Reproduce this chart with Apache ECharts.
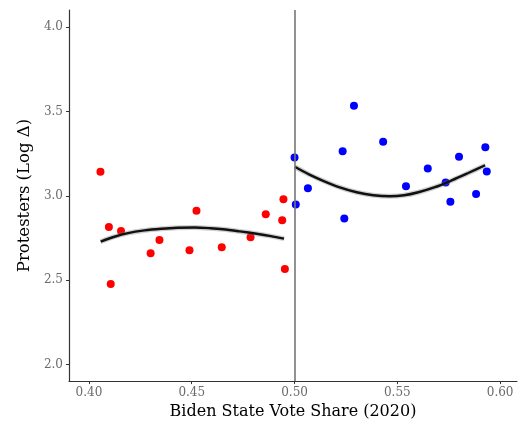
<!DOCTYPE html>
<html>
<head>
<meta charset="utf-8">
<script src="https://cdn.jsdelivr.net/npm/echarts@6/dist/echarts.min.js"></script>
<style>
  html, body { margin: 0; padding: 0; background: #fff; }
  #chart { width: 524px; height: 425px; }
</style>
</head>
<body>
<div id="chart"></div>
<script>
// States below 50% Biden share (red) and at/above it (blue): [vote share, log change in protesters]
const redStates = [
  [0.4056, 3.142], [0.4097, 2.815], [0.4156, 2.791], [0.4106, 2.477],
  [0.4300, 2.660], [0.4343, 2.738], [0.4523, 2.912], [0.4489, 2.677],
  [0.4646, 2.695], [0.4786, 2.754], [0.4860, 2.890], [0.4946, 2.980],
  [0.4940, 2.855], [0.4953, 2.567]
];
const blueStates = [
  [0.5000, 3.227], [0.5006, 2.949], [0.5065, 3.045], [0.5234, 3.264],
  [0.5242, 2.865], [0.5289, 3.534], [0.5431, 3.320], [0.5542, 3.057],
  [0.5648, 3.162], [0.5735, 3.079], [0.5758, 2.965], [0.5800, 3.231],
  [0.5883, 3.010], [0.5928, 3.288], [0.5935, 3.144]
];
// Quadratic fit on each side of the cutoff
const redFit = [
  [0.4057, 2.729], [0.4120, 2.756], [0.4190, 2.779], [0.4270, 2.795],
  [0.4352, 2.805], [0.4430, 2.811], [0.4515, 2.812], [0.4590, 2.808],
  [0.4652, 2.802], [0.4735, 2.789], [0.4815, 2.775], [0.4885, 2.761],
  [0.4949, 2.746]
];
const blueFit = [
  [0.5001, 3.172], [0.5070, 3.127], [0.5139, 3.089], [0.5220, 3.050],
  [0.5302, 3.021], [0.5383, 3.003], [0.5464, 2.997], [0.5533, 3.003],
  [0.5602, 3.021], [0.5683, 3.051], [0.5764, 3.091], [0.5845, 3.135],
  [0.5927, 3.181]
];
const xTicks = [0.40, 0.45, 0.50, 0.55, 0.60];
const yTicks = [2.0, 2.5, 3.0, 3.5, 4.0];
const cutoff = 0.5;

const serif = 'DejaVu Serif';
const chart = echarts.init(document.getElementById('chart'));

function fitSeries(data) {
  return [
    { type: 'line', data: data, smooth: 0.3, symbol: 'none', silent: true, z: 3,
      lineStyle: { color: 'rgba(120,120,120,0.35)', width: 5 } },
    { type: 'line', data: data, smooth: 0.3, symbol: 'none', silent: true, z: 4,
      lineStyle: { color: '#111', width: 2.4 } }
  ];
}

chart.setOption({
  animation: false,
  grid: { left: 69, right: 7, top: 10, bottom: 43 },
  xAxis: {
    type: 'value', min: 0.3903, max: 0.6082,
    name: 'Biden State Vote Share (2020)', nameLocation: 'middle', nameGap: 22,
    nameTextStyle: { fontFamily: serif, fontSize: 16, color: '#000' },
    splitLine: { show: false },
    axisLine: { show: true, lineStyle: { color: '#333', width: 1.2 } },
    axisTick: { show: true, length: 3, customValues: xTicks, lineStyle: { color: '#333' } },
    axisLabel: { customValues: xTicks, fontFamily: serif, fontSize: 12, color: '#6a6a6a', margin: 6,
      formatter: v => v.toFixed(2) }
  },
  yAxis: {
    type: 'value', min: 1.902, max: 4.101,
    name: 'Protesters (Log Δ)', nameLocation: 'middle', nameGap: 30,
    nameTextStyle: { fontFamily: serif, fontSize: 16.5, color: '#000' },
    splitLine: { show: false },
    axisLine: { show: true, lineStyle: { color: '#333', width: 1.2 } },
    axisTick: { show: true, length: 3, customValues: yTicks, lineStyle: { color: '#333' } },
    axisLabel: { customValues: yTicks, fontFamily: serif, fontSize: 12, color: '#6a6a6a', margin: 6,
      formatter: v => v.toFixed(1) }
  },
  series: [
    { type: 'scatter', data: redStates, symbolSize: 8, z: 2,
      itemStyle: { color: '#ff0000', opacity: 1 },
      markLine: { silent: true, symbol: 'none', label: { show: false },
        lineStyle: { color: '#777', width: 1.6, type: 'solid' },
        data: [{ xAxis: cutoff }] } },
    { type: 'scatter', data: blueStates, symbolSize: 8, z: 2,
      itemStyle: { color: '#0000ff', opacity: 1 } },
    ...fitSeries(redFit),
    ...fitSeries(blueFit)
  ]
});
</script>
</body>
</html>
